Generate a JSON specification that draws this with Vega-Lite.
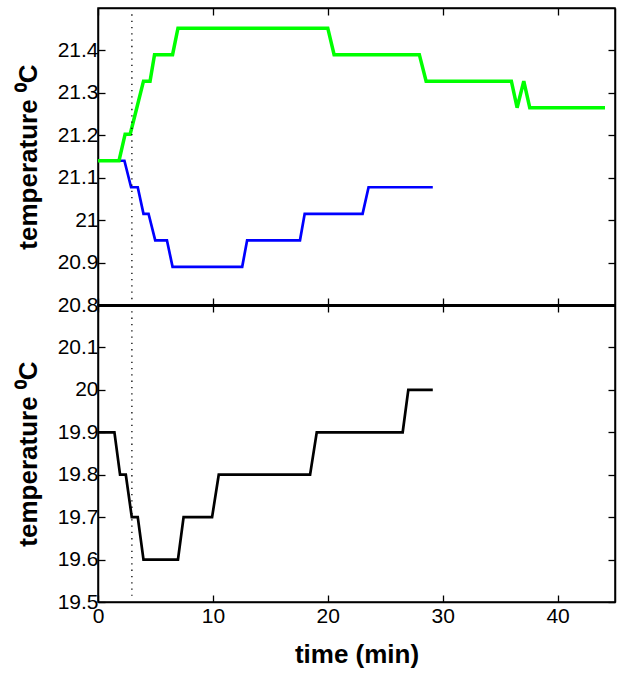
{
  "$schema": "https://vega.github.io/schema/vega-lite/v6.json",
  "padding": {"left": 14, "top": 6, "right": 9, "bottom": 5},
  "spacing": 0,
  "bounds": "flush",
  "background": "white",
  "datasets": {
    "temps": [
      {"series": "blue", "t": 0, "temp": 21.14},
      {"series": "blue", "t": 2.3, "temp": 21.14},
      {"series": "blue", "t": 2.88, "temp": 21.0775},
      {"series": "blue", "t": 3.46, "temp": 21.0775},
      {"series": "blue", "t": 3.96, "temp": 21.015},
      {"series": "blue", "t": 4.4, "temp": 21.015},
      {"series": "blue", "t": 4.98, "temp": 20.9525},
      {"series": "blue", "t": 6.0, "temp": 20.9525},
      {"series": "blue", "t": 6.49, "temp": 20.89},
      {"series": "blue", "t": 12.55, "temp": 20.89},
      {"series": "blue", "t": 12.98, "temp": 20.9525},
      {"series": "blue", "t": 17.58, "temp": 20.9525},
      {"series": "blue", "t": 17.99, "temp": 21.015},
      {"series": "blue", "t": 23.03, "temp": 21.015},
      {"series": "blue", "t": 23.55, "temp": 21.0775},
      {"series": "blue", "t": 29.14, "temp": 21.0775},
      {"series": "green", "t": 0, "temp": 21.14},
      {"series": "green", "t": 1.83, "temp": 21.14},
      {"series": "green", "t": 2.36, "temp": 21.2025},
      {"series": "green", "t": 2.8, "temp": 21.2025},
      {"series": "green", "t": 3.38, "temp": 21.265},
      {"series": "green", "t": 3.96, "temp": 21.3275},
      {"series": "green", "t": 4.53, "temp": 21.3275},
      {"series": "green", "t": 4.92, "temp": 21.39},
      {"series": "green", "t": 6.49, "temp": 21.39},
      {"series": "green", "t": 6.96, "temp": 21.4525},
      {"series": "green", "t": 20.0, "temp": 21.4525},
      {"series": "green", "t": 20.55, "temp": 21.39},
      {"series": "green", "t": 27.97, "temp": 21.39},
      {"series": "green", "t": 28.56, "temp": 21.3275},
      {"series": "green", "t": 35.98, "temp": 21.3275},
      {"series": "green", "t": 36.48, "temp": 21.265},
      {"series": "green", "t": 37.06, "temp": 21.3275},
      {"series": "green", "t": 37.58, "temp": 21.265},
      {"series": "green", "t": 44.13, "temp": 21.265},
      {"series": "black", "t": 0, "temp": 19.9},
      {"series": "black", "t": 1.43, "temp": 19.9},
      {"series": "black", "t": 1.92, "temp": 19.8},
      {"series": "black", "t": 2.42, "temp": 19.8},
      {"series": "black", "t": 2.94, "temp": 19.7},
      {"series": "black", "t": 3.46, "temp": 19.7},
      {"series": "black", "t": 3.96, "temp": 19.6},
      {"series": "black", "t": 6.96, "temp": 19.6},
      {"series": "black", "t": 7.45, "temp": 19.7},
      {"series": "black", "t": 9.93, "temp": 19.7},
      {"series": "black", "t": 10.51, "temp": 19.8},
      {"series": "black", "t": 18.46, "temp": 19.8},
      {"series": "black", "t": 19.04, "temp": 19.9},
      {"series": "black", "t": 26.52, "temp": 19.9},
      {"series": "black", "t": 27.01, "temp": 20.0},
      {"series": "black", "t": 29.14, "temp": 20.0}
    ],
    "markers": [
      {"panel": "top", "t": 2.95, "ya": 21.485, "yb": 20.8},
      {"panel": "bottom", "t": 2.95, "ya": 20.2, "yb": 19.515}
    ]
  },
  "config": {
    "font": "Liberation Sans",
    "view": {"stroke": "black", "strokeWidth": 1.5},
    "axis": {
      "grid": false,
      "domainColor": "black",
      "domainWidth": 1.5,
      "tickColor": "black",
      "tickWidth": 1.3,
      "tickSize": -7,
      "labelColor": "black",
      "labelFont": "Liberation Sans",
      "labelFontSize": 21,
      "labelPadding": 7,
      "titleColor": "black",
      "titleFont": "Liberation Sans",
      "titleFontSize": 26,
      "titleFontWeight": "bold"
    }
  },
  "vconcat": [
    {
      "width": 517,
      "height": 297,
      "resolve": {"axis": {"x": "independent", "y": "independent"}},
      "layer": [
        {
          "data": {"name": "temps"},
          "transform": [{"filter": "datum.series === 'blue'"}],
          "mark": {"type": "line", "color": "#0000ff", "strokeWidth": 2.7},
          "encoding": {
            "x": {"field": "t", "type": "quantitative", "scale": {"domain": [0, 45], "nice": false, "zero": false},
                  "axis": {"orient": "bottom", "values": [0, 10, 20, 30, 40], "labels": false, "title": null, "domainWidth": 3, "minExtent": 0, "maxExtent": 0}},
            "y": {"field": "temp", "type": "quantitative", "scale": {"domain": [20.8, 21.5], "nice": false, "zero": false},
                  "axis": {"orient": "left", "values": [20.8, 20.9, 21.0, 21.1, 21.2, 21.3, 21.4], "format": "~g", "title": "temperature ⁰C", "titlePadding": 16}}
          }
        },
        {
          "data": {"name": "temps"},
          "transform": [{"filter": "datum.series === 'green'"}],
          "mark": {"type": "line", "color": "#00ff00", "strokeWidth": 3.5},
          "encoding": {
            "x": {"field": "t", "type": "quantitative", "axis": null},
            "y": {"field": "temp", "type": "quantitative", "axis": null}
          }
        },
        {
          "data": {"name": "markers"},
          "transform": [{"filter": "datum.panel === 'top'"}],
          "mark": {"type": "rule", "color": "black", "strokeWidth": 1.3, "strokeDash": [1.3, 5]},
          "encoding": {
            "x": {"field": "t", "type": "quantitative",
                  "axis": {"orient": "top", "values": [0, 10, 20, 30, 40], "labels": false, "title": null, "minExtent": 0, "maxExtent": 0}},
            "y": {"field": "ya", "type": "quantitative",
                  "axis": {"orient": "right", "values": [20.8, 20.9, 21.0, 21.1, 21.2, 21.3, 21.4], "labels": false, "title": null, "minExtent": 0, "maxExtent": 0}},
            "y2": {"field": "yb"}
          }
        }
      ]
    },
    {
      "width": 517,
      "height": 297,
      "resolve": {"axis": {"x": "independent", "y": "independent"}},
      "layer": [
        {
          "data": {"name": "temps"},
          "transform": [{"filter": "datum.series === 'black'"}],
          "mark": {"type": "line", "color": "black", "strokeWidth": 2.7},
          "encoding": {
            "x": {"field": "t", "type": "quantitative", "scale": {"domain": [0, 45], "nice": false, "zero": false},
                  "axis": {"orient": "bottom", "values": [0, 10, 20, 30, 40], "title": "time (min)", "labelPadding": 10, "titlePadding": 15, "labelFlush": false}},
            "y": {"field": "temp", "type": "quantitative", "scale": {"domain": [19.5, 20.2], "nice": false, "zero": false},
                  "axis": {"orient": "left", "values": [19.5, 19.6, 19.7, 19.8, 19.9, 20.0, 20.1], "format": "~g", "title": "temperature ⁰C", "titlePadding": 16}}
          }
        },
        {
          "data": {"name": "markers"},
          "transform": [{"filter": "datum.panel === 'bottom'"}],
          "mark": {"type": "rule", "color": "black", "strokeWidth": 1.3, "strokeDash": [1.3, 5]},
          "encoding": {
            "x": {"field": "t", "type": "quantitative",
                  "axis": {"orient": "top", "values": [0, 10, 20, 30, 40], "labels": false, "title": null, "domainWidth": 3, "minExtent": 0, "maxExtent": 0}},
            "y": {"field": "ya", "type": "quantitative",
                  "axis": {"orient": "right", "values": [19.5, 19.6, 19.7, 19.8, 19.9, 20.0, 20.1], "labels": false, "title": null, "minExtent": 0, "maxExtent": 0}},
            "y2": {"field": "yb"}
          }
        }
      ]
    }
  ]
}
